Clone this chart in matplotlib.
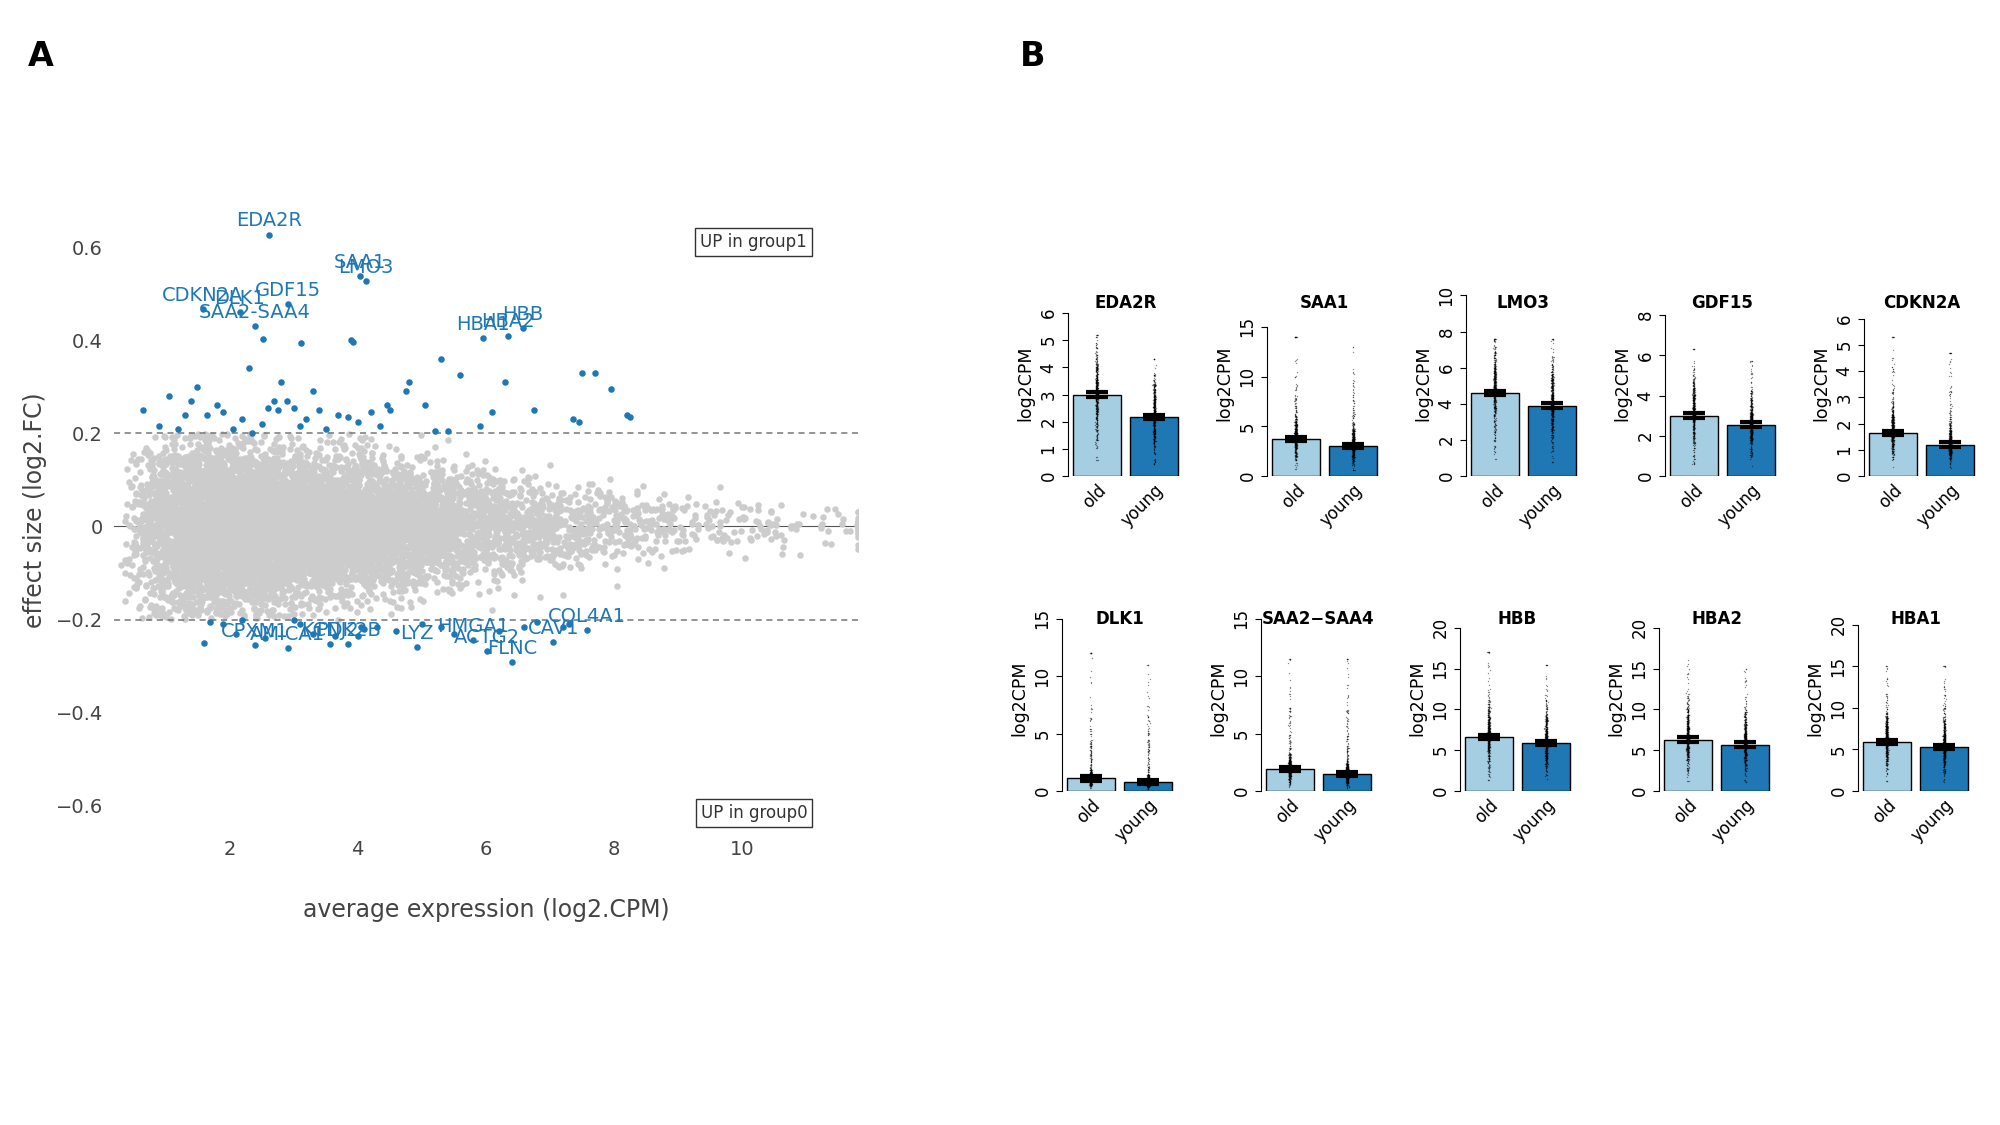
import matplotlib.pyplot as plt
import numpy as np

plt.rcParams["font.family"] = ["DejaVu Sans"]

BLUE = "#1f78b4"
LIGHT = "#a6cee3"
GREY = "#cccccc"

# ---- panel A: labelled genes (avg log2CPM, log2FC)
up_genes = ["EDA2R", "SAA1", "LMO3", "GDF15", "CDKN2A", "DLK1", "SAA2-SAA4", "HBA1", "HBA2", "HBB"]
up_x = [2.62, 4.03, 4.13, 2.91, 1.58, 2.16, 2.40, 5.95, 6.34, 6.58]
up_y = [0.627, 0.538, 0.527, 0.477, 0.467, 0.460, 0.430, 0.405, 0.410, 0.426]

down_genes = ["CPXM1", "AMICA1", "KCNJ2", "PDK2B", "LYZ", "HMGA1", "ACTG2", "FLNC", "CAV1", "COL4A1"]
down_x = [2.40, 2.91, 3.57, 3.85, 4.92, 5.80, 6.01, 6.41, 7.05, 7.57]
down_y = [-0.255, -0.262, -0.252, -0.253, -0.259, -0.244, -0.267, -0.291, -0.249, -0.223]

# other significant (unlabelled) genes
sig_x = [2.52, 3.12, 3.93, 2.3, 2.8, 3.3, 4.8, 4.75, 5.3, 5.6, 6.3, 7.5, 7.7, 7.95, 3.9, 1.5, 1.05,
         6.75, 7.35, 7.45, 8.25, 8.2, 6.1, 5.9, 5.4, 5.2, 4.5, 4.45, 4.35, 4.0, 3.7, 3.4, 3.2, 3.0,
         2.7, 2.6, 2.5, 2.2, 1.9, 1.8, 1.65, 1.3, 1.2, 0.9, 0.65, 2.05, 2.35, 3.5, 3.85, 4.2, 5.05,
         2.9, 2.75, 3.1, 1.4,
         1.7, 1.9, 2.1, 2.55, 3.1, 3.3, 3.65, 4.1, 4.3, 4.6, 5.3, 5.5, 6.2, 6.6, 6.8, 7.2, 7.3,
         3.0, 2.2, 5.0, 1.6, 4.0, 4.05]
sig_y = [0.403, 0.394, 0.397, 0.34, 0.31, 0.29, 0.31, 0.29, 0.36, 0.325, 0.31, 0.33, 0.33, 0.295,
         0.40, 0.30, 0.28, 0.25, 0.23, 0.225, 0.235, 0.24, 0.245, 0.215, 0.205, 0.205, 0.25, 0.26,
         0.215, 0.225, 0.24, 0.25, 0.23, 0.255, 0.27, 0.255, 0.22, 0.23, 0.245, 0.26, 0.24, 0.24,
         0.21, 0.215, 0.25, 0.21, 0.20, 0.21, 0.235, 0.245, 0.26, 0.27, 0.25, 0.215, 0.27,
         -0.205, -0.21, -0.23, -0.24, -0.21, -0.23, -0.235, -0.22, -0.215, -0.225, -0.215, -0.23,
         -0.225, -0.215, -0.205, -0.215, -0.21, -0.20, -0.20, -0.21, -0.25, -0.235, -0.215]

# ---- panel B: per-gene bar heights (mean log2CPM) and max of sample points
b_genes = ["EDA2R", "SAA1", "LMO3", "GDF15", "CDKN2A", "DLK1", "SAA2\u2212SAA4", "HBB", "HBA2", "HBA1"]
b_old = [3.0, 3.7, 4.6, 3.0, 1.65, 1.1, 1.9, 6.6, 6.3, 5.9]
b_young = [2.18, 3.0, 3.9, 2.55, 1.2, 0.8, 1.5, 5.9, 5.7, 5.3]
b_old_max = [5.2, 14.0, 7.6, 6.3, 5.3, 12.0, 11.5, 17.0, 16.0, 15.0]
b_young_max = [4.3, 13.0, 7.6, 5.7, 4.7, 11.0, 11.5, 15.5, 15.0, 15.0]
b_ymax = [6.85, 18.7, 10.3, 9.25, 7.1, 16.2, 16.2, 22.8, 22.8, 22.4]
b_ticks = [[0, 1, 2, 3, 4, 5, 6], [0, 5, 10, 15], [0, 2, 4, 6, 8, 10], [0, 2, 4, 6, 8],
           [0, 1, 2, 3, 4, 5, 6], [0, 5, 10, 15], [0, 5, 10, 15], [0, 5, 10, 15, 20],
           [0, 5, 10, 15, 20], [0, 5, 10, 15, 20]]
groups = ["old", "young"]

fig = plt.figure(figsize=(20, 11.25), dpi=100)

# ---------------- panel A
ax = fig.add_axes([0.057, 0.263, 0.372, 0.567])
# background cloud of non-significant genes (shape only, too dense to read point by point)
rng = np.random.default_rng(3)
n = 9000
gx = np.clip(rng.gamma(2.8, 1.15, n) + 0.2, 0.2, 11.8)
sd = 0.115 * np.exp(-gx / 8)
gy = rng.normal(0, sd)
keep = np.abs(gy) < 0.2
ax.axhline(0, color="#555555", lw=0.8, zorder=0)
ax.scatter(gx[keep], gy[keep], s=22, color=GREY, lw=0, zorder=1)
for yl in (0.2, -0.2):
    ax.axhline(yl, color="#777777", lw=1.1, ls=(0, (4, 3)), zorder=2)
ax.scatter(sig_x, sig_y, s=22, color=BLUE, lw=0, zorder=3)
ax.scatter(up_x + down_x, up_y + down_y, s=22, color=BLUE, lw=0, zorder=3)
for g, x, y in zip(up_genes + down_genes, up_x + down_x, up_y + down_y):
    ax.annotate(g, (x, y), xytext=(0, 3), textcoords="offset points",
                ha="center", va="bottom", fontsize=14, color=BLUE, zorder=4)
ax.text(0.86, 0.92, "UP in group1", transform=ax.transAxes, ha="center", va="center",
        fontsize=12, color="#333333", bbox=dict(boxstyle="square,pad=0.3", fc="white", ec="#333333"))
ax.text(0.86, 0.025, "UP in group0", transform=ax.transAxes, ha="center", va="center",
        fontsize=12, color="#333333", bbox=dict(boxstyle="square,pad=0.3", fc="white", ec="#333333"))
ax.set_xlim(0.2, 11.8)
ax.set_ylim(-0.65, 0.72)
ax.set_xticks([2, 4, 6, 8, 10])
ax.set_yticks([-0.6, -0.4, -0.2, 0, 0.2, 0.4, 0.6])
ax.set_yticklabels(["\u22120.6", "\u22120.4", "\u22120.2", "0", "0.2", "0.4", "0.6"])
ax.tick_params(length=0, labelsize=14, labelcolor="#444444", pad=8)
for s in ax.spines.values():
    s.set_visible(False)
ax.set_xlabel("average expression (log2.CPM)", fontsize=17, color="#444444", labelpad=28)
ax.set_ylabel("effect size (log2.FC)", fontsize=17, color="#444444", labelpad=6)

fig.text(0.014, 0.95, "A", fontsize=24, fontweight="bold", va="center")
fig.text(0.51, 0.95, "B", fontsize=24, fontweight="bold", va="center")

# ---------------- panel B
lefts = [0.534, 0.6335, 0.733, 0.8325, 0.932]
bottoms = [1 - 476 / 1125, 1 - 791 / 1125]
title_y = [0.731, 0.450]
for i, g in enumerate(b_genes):
    r, c = divmod(i, 5)
    bx = fig.add_axes([lefts[c] - (0.003 if r else 0), bottoms[r], 0.0575, 186 / 1125])
    bx.bar([0.7, 1.9], [b_old[i], b_young[i]], width=1.0, color=[LIGHT, BLUE],
           edgecolor="black", lw=1.0, zorder=1)
    prng = np.random.default_rng(i + 10)
    for xc, mean, mx in zip([0.7, 1.9], [b_old[i], b_young[i]], [b_old_max[i], b_young_max[i]]):
        pts = np.concatenate([prng.normal(mean, mean * 0.3, 400),
                              mean + prng.exponential((mx - mean) / 3.5, 120)])
        pts = np.clip(pts, 0.2 * mean, mx)
        pts = np.append(pts, mx)
        bx.scatter(xc + prng.normal(0, 0.012, pts.size), pts, s=1.0, color="black",
                   alpha=0.45, lw=0, zorder=2)
        bx.errorbar(xc, mean, yerr=b_ymax[i] * 0.012, color="black", lw=2.5, capsize=8,
                    capthick=3, zorder=3)
    bx.set_xlim(0.1, 2.5)
    bx.set_ylim(0, b_ymax[i])
    bx.set_yticks(b_ticks[i])
    bx.set_yticklabels([str(t) for t in b_ticks[i]], rotation=90, va="center")
    bx.set_xticks([0.7, 1.9])
    bx.set_xticklabels(groups, rotation=45, ha="right", rotation_mode="anchor")
    bx.tick_params(labelsize=12, length=4)
    bx.tick_params(axis="x", length=0)
    for s in ("top", "right", "bottom"):
        bx.spines[s].set_visible(False)
    bx.spines["left"].set_bounds(0, b_ticks[i][-1])
    bx.set_ylabel("log2CPM", fontsize=12.5)
    fig.text(lefts[c] - (0.003 if r else 0) + 0.0575 / 2, title_y[r], g,
             fontsize=12, fontweight="bold", ha="center", va="center")

fig.savefig("out.png", dpi=100)
